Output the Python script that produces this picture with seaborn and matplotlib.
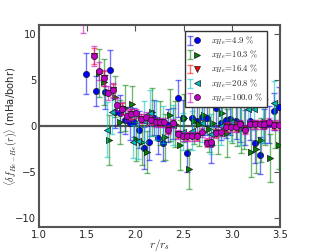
import numpy as np
import pandas as pd
import matplotlib
matplotlib.use("Agg")
import matplotlib.pyplot as plt
from matplotlib.lines import Line2D
from matplotlib.legend_handler import HandlerTuple
import seaborn as sns

# ---- data ----
labels = [r'$x_{He}\!=\!4.9\ \%$', r'$x_{He}\!=\!10.3\ \%$', r'$x_{He}\!=\!16.4\ \%$',
          r'$x_{He}\!=\!20.8\ \%$', r'$x_{He}\!=\!100.0\ \%$']

r_blue = [1.49, 1.59, 1.69, 1.74, 1.79, 1.84, 1.89, 1.94, 1.99, 2.04, 2.09, 2.14, 2.19, 2.24,
          2.29, 2.34, 2.39, 2.44, 2.49, 2.54, 2.59, 2.64, 2.69, 2.74, 2.79, 2.84, 2.89, 2.94,
          2.98, 3.04, 3.09, 3.14, 3.19, 3.24, 3.29, 3.34, 3.39, 3.44, 3.49]
v_blue = [5.7, 3.8, 3.7, 6.1, 1.5, 1.4, 0.6, 0.3, 0.4, -0.4, -2.4, -1.7, 0.9, -1.3,
          -1.8, 0.1, 0.3, 3.0, 0.9, -2.9, 0.9, 0.5, 1.0, 0.9, -2.0, 2.0, 0.3, 0.6,
          0.8, 0.5, 0.3, -0.2, 0.5, -1.9, -3.2, 0.0, 0.2, 1.6, 2.1]
e_blue = [2.2, 1.6, 1.8, 2.2, 1.7, 2.0, 1.5, 1.8, 1.6, 2.0, 2.3, 2.0, 1.9, 1.8,
          2.0, 1.8, 1.7, 2.0, 1.9, 2.1, 1.8, 1.7, 2.0, 1.9, 2.0, 2.1, 1.8, 1.9,
          1.8, 1.9, 2.0, 1.9, 2.0, 2.1, 2.0, 1.9, 2.0, 2.0, 2.1]

r_green = [1.62, 1.67, 1.73, 1.79, 1.84, 1.89, 1.97, 2.01, 2.07, 2.12, 2.17, 2.26, 2.31, 2.36,
           2.41, 2.46, 2.50, 2.56, 2.61, 2.66, 2.71, 2.76, 2.81, 2.86, 2.90, 2.95, 3.00,
           3.05, 3.10, 3.13, 3.20, 3.25, 3.30, 3.35, 3.40, 3.45, 3.49]
v_green = [5.8, 4.8, -1.5, 3.2, 0.4, 2.0, 2.4, -1.4, -1.7, -2.8, 1.5, 0.3, -1.2, 1.2,
           0.2, -2.1, 0.9, -4.7, 0.5, 0.2, 1.2, -0.3, 0.3, -0.5, 1.4, -0.8, 0.5,
           0.3, -0.3, -0.1, -2.8, -2.5, -1.5, 0.4, -3.5, 0.1, -2.1]
e_green = [2.6, 2.5, 2.7, 2.2, 2.4, 2.5, 2.0, 2.4, 2.5, 2.3, 2.6, 2.4, 2.5, 2.8,
           2.5, 2.7, 2.6, 2.2, 2.5, 2.4, 2.0, 2.5, 2.4, 2.6, 2.5, 2.6, 2.4,
           2.5, 2.6, 2.4, 2.7, 2.6, 2.4, 2.5, 2.6, 2.5, 2.6]

r_red = [1.57, 1.67, 1.77, 1.86, 1.96, 2.06, 2.16, 2.26, 2.34, 2.44, 2.54, 2.64, 2.74,
         2.84, 2.94, 3.04, 3.14, 3.24, 3.34, 3.44]
v_red = [7.6, 5.2, 3.9, 1.9, 1.3, 0.8, 0.6, 0.4, -0.4, -0.9, -1.1, -1.1, -1.8,
         -0.8, -0.1, -0.1, -0.4, 0.2, 0.2, 0.1]
e_red = [0.9, 0.8, 0.7, 0.6, 0.5, 0.5, 0.4, 0.4, 0.4, 0.4, 0.4, 0.4, 0.4,
         0.4, 0.4, 0.4, 0.4, 0.4, 0.4, 0.4]

r_cyan = [1.71, 1.76, 1.98, 2.03, 2.09, 2.15, 2.21, 2.29, 2.39, 2.49, 2.59, 2.69, 2.79,
          2.89, 2.99, 3.09, 3.17, 3.23, 3.33, 3.44]
v_cyan = [-0.4, 1.5, -1.7, -1.6, 0.5, 1.4, 0.6, 0.2, 0.1, -0.6, -0.5, 0.3, -0.9,
          0.0, 0.4, 0.1, 1.8, 1.9, 0.3, 2.5]
e_cyan = [3.0, 2.4, 1.8, 2.0, 2.2, 2.5, 2.1, 2.0, 2.2, 2.0, 2.1, 2.0, 2.2,
          2.1, 2.0, 2.2, 2.0, 2.3, 2.1, 2.4]

r_mag = [1.46, 1.57, 1.62, 1.67, 1.72, 1.77, 1.81, 1.86, 1.91, 1.96, 2.01, 2.06, 2.11, 2.16,
         2.21, 2.26, 2.30, 2.34, 2.39, 2.44, 2.49, 2.54, 2.59, 2.64, 2.69, 2.74, 2.79,
         2.84, 2.89, 2.94, 2.99, 3.04, 3.09, 3.14, 3.19, 3.24, 3.29, 3.34, 3.39, 3.44, 3.49]
v_mag = [12.0, 7.6, 6.0, 5.2, 3.6, 3.9, 2.3, 1.9, 1.1, 1.3, 1.4, 0.8, 1.0, 0.6,
         0.4, 0.4, 0.4, -0.4, 0.3, -0.9, -1.1, -1.1, -1.1, -1.1, -0.7, -1.8, -1.7,
         -0.8, -0.6, -0.1, -0.1, -0.1, 0.2, -0.4, 0.2, 0.2, 0.2, 0.2, 0.4, 0.1, 0.1]
e_mag = [1.9, 1.1, 1.0, 0.9, 0.8, 0.8, 0.7, 0.7, 0.6, 0.6, 0.5, 0.5, 0.5, 0.5,
         0.5, 0.5, 0.5, 0.5, 0.5, 0.5, 0.5, 0.5, 0.5, 0.5, 0.5, 0.5, 0.5,
         0.5, 0.5, 0.5, 0.5, 0.5, 0.5, 0.5, 0.5, 0.5, 0.5, 0.5, 0.5, 0.5, 0.5]

series = [
    (r_blue, v_blue, e_blue, 'o', '#0000ff'),
    (r_green, v_green, e_green, '>', '#007f00'),
    (r_red, v_red, e_red, 'v', '#ff0000'),
    (r_cyan, v_cyan, e_cyan, '<', '#00bfbf'),
    (r_mag, v_mag, e_mag, 'o', '#bf00bf'),
]

# ---- style ----
sns.set_theme(style='white')
plt.rcParams['font.family'] = ['DejaVu Sans']
plt.rcParams['mathtext.fontset'] = 'cm'
plt.rcParams['xtick.direction'] = 'in'
plt.rcParams['ytick.direction'] = 'in'

fig = plt.figure(figsize=(3.12, 2.52), dpi=100)
ax = fig.add_axes([0.125, 0.099, 0.772, 0.802])

ax.axhline(0, color='#555555', lw=1.6, zorder=1)

handles = []
z = 2
for (r, v, e, m, c), lab in zip(series, labels):
    eb = ax.errorbar(r, v, yerr=e, fmt='none', ecolor=c, elinewidth=1.0,
                     capsize=2.2, capthick=1.0, alpha=0.55, zorder=z)
    df = pd.DataFrame({'r': r, 'v': v})
    sns.scatterplot(data=df, x='r', y='v', marker=m, color=c, s=20,
                    edgecolor='k', linewidth=0.5, ax=ax, zorder=z + 1, legend=False)
    z += 2
    mk = Line2D([], [], marker=m, color=c, markeredgecolor='k', markeredgewidth=0.5,
                markersize=4.3, linestyle='none')
    handles.append(((eb, mk), lab))

ax.set_xlim(1.0, 3.5)
ax.set_ylim(-11, 11)
ax.set_xticks([1.0, 1.5, 2.0, 2.5, 3.0, 3.5])
ax.set_yticks([-10, -5, 0, 5, 10])
ax.tick_params(axis='both', which='both', direction='in', top=True, right=True,
               length=4, width=0.8, color='#555555', labelsize=7.2, pad=2)
for sp in ax.spines.values():
    sp.set_color('#555555')
    sp.set_linewidth(1.5)

ax.set_xlabel(r'$r/r_s$', fontsize=8)
ax.set_ylabel(r'$\langle\delta f_{He-He}(r)\rangle$ (mHa/bohr)', fontsize=7.2)
ax.xaxis.set_label_coords(0.5, -0.05)
ax.yaxis.set_label_coords(-0.085, 0.5)

leg = ax.legend([h for h, _ in handles], [l for _, l in handles],
                handler_map={tuple: HandlerTuple(ndivide=None)},
                loc='upper right', bbox_to_anchor=(0.946, 0.97), fontsize=6.3,
                frameon=True, fancybox=False, framealpha=1, edgecolor='#333333',
                borderpad=0.4, labelspacing=0.2, handlelength=1.2, handletextpad=1.4,
                borderaxespad=0)
leg.get_frame().set_linewidth(1.0)
leg.set_zorder(20)

fig.savefig('out.png', dpi=100)
